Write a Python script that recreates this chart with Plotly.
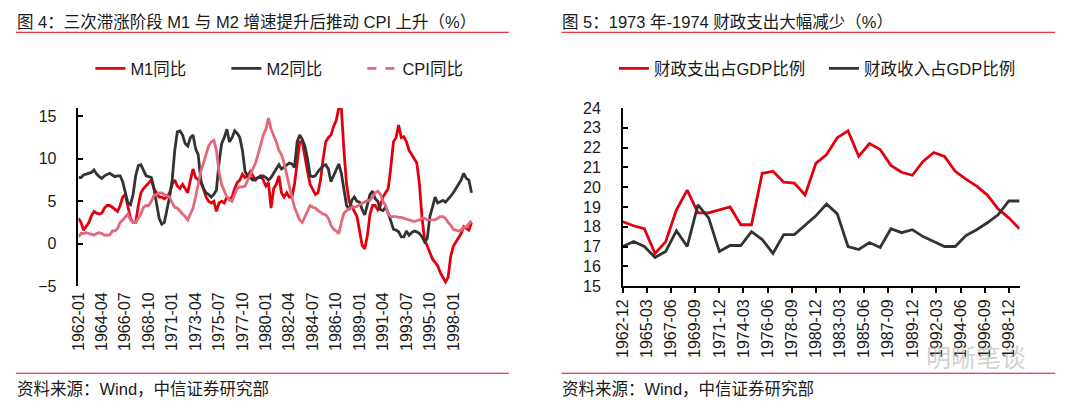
import pandas as pd
import plotly.graph_objects as go

# ---------------- Left chart: quarterly YoY (%) from 1962-01 ----------------
m1_yoy = [
    3.0, 2.5, 1.6, 2.0,   2.5, 3.3, 3.8, 3.6,   3.5, 3.6, 4.2, 4.5,   4.5, 4.3, 4.0, 3.8,
    4.5, 5.5, 5.8, 4.5,   3.0, 2.5, 2.5, 4.5,   6.0, 6.5, 6.8, 7.2,   7.5, 6.5, 6.0, 5.5,
    5.5, 5.3, 5.5, 6.0,   7.0, 7.5, 6.8, 6.5,   7.0, 6.5, 6.0, 7.5,   8.8, 7.8, 7.5, 7.2,
    6.5, 5.5, 5.0, 4.8,   5.0, 3.8, 4.8, 5.0,   4.8, 5.5, 5.2, 5.5,   6.5, 7.2, 7.5, 8.2,
    7.8, 8.0, 8.5, 8.0,   7.5, 7.8, 8.0, 7.5,   6.8, 7.2, 4.2, 6.5,   7.0, 8.0, 6.0, 5.5,
    6.0, 5.5, 5.5, 7.0,   9.5, 12.0, 12.0, 10.0, 8.5, 7.0, 6.3, 5.8,  6.0, 7.5, 10.0, 12.0,
    12.5, 12.8, 13.8, 14.5, 16.0, 16.0, 11.0, 7.0, 5.0, 4.3, 3.8, 3.2, 1.5, -0.2, -0.6, 1.0,
    3.5, 4.5, 4.5, 4.0,   4.5, 5.5, 6.0, 6.5,   9.0, 12.0, 12.5, 14.0, 12.5, 12.6, 12.0, 11.0,
    10.5, 10.0, 9.5, 7.0, 3.0, 0.5, -0.3, -1.1, -1.8, -2.2, -2.6, -3.4, -4.0, -4.5, -4.0, -1.5,
    -0.3, 0.2, 0.8, 1.2,  2.0, 1.8, 1.6, 2.5,
]
m2_yoy = [
    7.8, 7.8, 8.1, 8.2,   8.3, 8.4, 8.7, 8.2,   7.9, 7.7, 8.0, 8.2,   8.3, 8.1, 7.9, 8.0,
    8.0, 7.3, 6.0, 4.8,   4.6, 5.8, 8.0, 9.2,   9.3, 8.7, 8.0, 7.9,   7.8, 6.5, 4.5, 3.0,
    2.3, 2.5, 4.0, 5.5,   7.5, 11.0, 13.2, 13.3, 12.8, 11.8, 11.5, 12.5, 12.8, 11.2, 10.5, 7.5,
    6.5, 6.0, 5.8, 5.5,   5.8, 6.3, 9.5, 11.8,  12.5, 13.5, 12.0, 12.5, 13.3, 13.0, 12.5, 11.0,
    8.5, 8.0, 7.8, 7.5,   7.6, 7.8, 7.8, 8.0,   7.8, 7.5, 7.8, 8.3,   8.8, 9.3, 8.8, 9.0,
    9.2, 9.5, 9.4, 9.0,   12.0, 12.8, 12.3, 11.5, 10.0, 8.0, 7.9, 8.0, 8.5, 8.8, 9.2, 9.3,
    8.8, 7.3, 8.0, 8.8,   9.4, 8.3, 6.5, 4.5,   4.0, 5.1, 5.5, 5.0,   4.9, 4.0, 3.4, 4.5,
    5.8, 6.2, 5.3, 5.0,   4.0, 3.9, 4.3, 3.6,   2.5, 1.7, 1.6, 1.4,   0.8, 0.8, 1.5, 1.0,
    1.3, 1.5, 1.4, 1.2,   0.8, 0.2, 0.6, 3.2,   4.3, 5.5, 4.8, 5.0,   5.1, 4.9, 5.2, 5.6,
    6.0, 6.5, 7.0, 7.5,   8.3, 7.7, 7.5, 6.0,
]
cpi_yoy = [
    0.8, 1.2, 1.2, 1.3,   1.2, 1.1, 1.0, 1.2,   1.3, 1.2, 1.0, 1.0,   1.0, 1.5, 1.5, 1.8,
    2.5, 2.8, 3.2, 3.5,   2.8, 2.5, 2.5, 3.0,   3.5, 4.3, 4.5, 4.5,   5.0, 5.7, 5.8, 6.0,
    6.0, 5.8, 5.6, 5.5,   4.8, 4.3, 4.2, 3.8,   3.5, 3.2, 2.8, 3.5,   4.2, 5.5, 7.0, 8.5,
    9.5, 10.5, 11.5, 12.0, 12.2, 11.0, 8.5, 7.0, 6.3, 5.5, 5.2, 5.0,  5.8, 6.5, 6.7, 6.7,
    6.8, 7.5, 8.0, 8.8,   9.5, 10.5, 11.5, 12.8, 13.5, 14.8, 13.5, 12.8, 12.0, 11.0, 10.5, 9.5,
    8.0, 6.8, 5.5, 4.3,   3.5, 2.8, 2.5, 3.2,   4.0, 4.5, 4.3, 4.2,   3.9, 3.7, 3.5, 3.4,
    3.0, 2.2, 1.7, 1.5,   1.2, 2.5, 3.6, 3.9,   4.1, 4.3, 4.3, 4.4,   4.6, 4.8, 5.0, 5.1,
    5.1, 5.6, 6.0, 6.2,   5.8, 5.0, 4.5, 3.5,   3.2, 3.2, 3.2, 3.1,   3.1, 3.0, 2.9, 2.8,
    2.7, 2.6, 2.7, 2.8,   3.0, 3.0, 2.8, 2.8,   2.8, 2.8, 3.0, 3.2,   3.2, 3.0, 2.5, 2.2,
    1.7, 1.6, 1.5, 1.6,   1.9, 2.0, 2.3, 2.7,
]
left_tick_labels = ["1962-01", "1964-04", "1966-07", "1968-10", "1971-01", "1973-04",
                    "1975-07", "1977-10", "1980-01", "1982-04", "1984-07", "1986-10",
                    "1989-01", "1991-04", "1993-07", "1995-10", "1998-01"]

# ---------------- Right chart: annual (December) share of GDP (%) ----------------
spending_gdp = [18.25, 18.05, 17.9, 16.65, 17.25, 18.85, 19.85, 18.7, 18.7, 18.85,
                19.0, 18.1, 18.1, 20.7, 20.8, 20.25, 20.2, 19.6, 21.2, 21.65,
                22.5, 22.85, 21.55, 22.2, 21.9, 21.1, 20.75, 20.6, 21.3, 21.75,
                21.55, 20.8, 20.4, 20.05, 19.6, 18.9, 18.45, 17.9]
revenue_gdp = [17.0, 17.25, 17.0, 16.45, 16.75, 17.8, 17.0, 19.1, 18.45, 16.75,
               17.05, 17.05, 17.75, 17.35, 16.65, 17.6, 17.6, 18.1, 18.55, 19.15,
               18.65, 17.0, 16.85, 17.2, 16.95, 17.9, 17.7, 17.85, 17.5, 17.25,
               17.0, 17.0, 17.55, 17.85, 18.2, 18.6, 19.3, 19.3]
right_tick_labels = ["1962-12", "1965-03", "1967-06", "1969-09", "1971-12", "1974-03",
                     "1976-06", "1978-09", "1980-12", "1983-03", "1985-06", "1987-09",
                     "1989-12", "1992-03", "1994-06", "1996-09", "1998-12"]

left_dates = pd.date_range("1962-01-01", periods=len(m1_yoy), freq="3MS")
right_dates = pd.date_range("1962-12-01", periods=len(spending_gdp), freq="12MS")

FONT = "Arial, 'Liberation Sans', 'Noto Sans CJK SC', sans-serif"
RED = "#E2000F"
DARK = "#333333"
PINK = "#E3687B"
TXT = "#1a1a1a"
SCREEN_W, SCREEN_H = 1080, 411
OFF = 8                      # page body margin of the browser
FIG_W, FIG_H = SCREEN_W - OFF, SCREEN_H - OFF


def px_x(v):
    return (v - OFF) / FIG_W


def px_y(v):
    return (SCREEN_H - v) / FIG_H


y_dom = [px_y(290), px_y(104)]
left_dom = [px_x(70), px_x(469)]
right_dom = [px_x(619), px_x(1019)]
left_yrange = [-5, 16]
zero_pos = y_dom[0] + (0 - left_yrange[0]) / (left_yrange[1] - left_yrange[0]) * (y_dom[1] - y_dom[0])
LW = 2.8

fig = go.Figure()
fig.add_trace(go.Scatter(x=left_dates, y=m1_yoy, name="M1同比", mode="lines",
                         line=dict(color=RED, width=LW), xaxis="x", yaxis="y", legend="legend"))
fig.add_trace(go.Scatter(x=left_dates, y=m2_yoy, name="M2同比", mode="lines",
                         line=dict(color=DARK, width=LW), xaxis="x", yaxis="y", legend="legend"))
fig.add_trace(go.Scatter(x=left_dates, y=cpi_yoy, name="CPI同比", mode="lines", showlegend=False,
                         line=dict(color=PINK, width=LW), xaxis="x", yaxis="y"))
fig.add_trace(go.Scatter(x=[None], y=[None], name="CPI同比", mode="lines",
                         line=dict(color=PINK, width=LW, dash="dash"), xaxis="x", yaxis="y",
                         legend="legend"))
fig.add_trace(go.Scatter(x=right_dates, y=spending_gdp, name="财政支出占GDP比例", mode="lines",
                         line=dict(color=RED, width=LW), xaxis="x2", yaxis="y2", legend="legend2"))
fig.add_trace(go.Scatter(x=right_dates, y=revenue_gdp, name="财政收入占GDP比例", mode="lines",
                         line=dict(color=DARK, width=LW), xaxis="x2", yaxis="y2", legend="legend2"))

left_tickvals = [pd.Timestamp(t + "-01") for t in left_tick_labels]
right_tickvals = [pd.Timestamp(t + "-01") for t in right_tick_labels]
left_xrange = ["1962-01-01", "2000-01-01"]

tickfont = dict(family=FONT, size=16, color=TXT)
legfont = dict(family=FONT, size=16.5, color=TXT)
fig.update_layout(
    width=FIG_W, height=FIG_H, autosize=False,
    margin=dict(l=0, r=0, t=0, b=0),
    paper_bgcolor="white", plot_bgcolor="white",
    font=dict(family=FONT, color=TXT),
    xaxis=dict(domain=left_dom, anchor="y", type="date", range=left_xrange,
               tickmode="array", tickvals=left_tickvals, ticktext=left_tick_labels,
               tickangle=-90, ticks="", showline=False, showgrid=False, zeroline=False,
               tickfont=tickfont, ticklabelstandoff=2),
    xaxis3=dict(overlaying="x", anchor="free", position=zero_pos, type="date", range=left_xrange,
                tickmode="array", tickvals=left_tickvals, showticklabels=False,
                ticks="outside", ticklen=5, tickwidth=1.5, tickcolor="black",
                showline=True, linecolor="black", linewidth=1.5, showgrid=False, zeroline=False),
    yaxis=dict(domain=y_dom, anchor="x", range=left_yrange, tickmode="array",
               tickvals=[-5, 0, 5, 10, 15], ticks="inside", ticklen=5, tickwidth=1.5,
               tickcolor="black", showline=True, linecolor="black", linewidth=1.5,
               showgrid=False, zeroline=False, tickfont=tickfont, ticklabelstandoff=17),
    xaxis2=dict(domain=right_dom, anchor="y2", type="date",
                range=["1962-12-01", "1999-12-01"], tickmode="array",
                tickvals=right_tickvals, ticktext=right_tick_labels, tickangle=-90,
                ticks="outside", ticklen=5, tickwidth=1.5, tickcolor="black",
                showline=True, linecolor="black", linewidth=1.5, showgrid=False,
                zeroline=False, tickfont=tickfont),
    yaxis2=dict(domain=y_dom, anchor="x2", range=[15, 24], dtick=1, tick0=15,
                ticks="inside", ticklen=5, tickwidth=1.5, tickcolor="black",
                showline=True, linecolor="black", linewidth=1.5, showgrid=False,
                zeroline=False, tickfont=tickfont, ticklabelstandoff=17),
    legend=dict(orientation="h", x=px_x(82), y=px_y(63), xanchor="left", yanchor="middle",
                font=legfont, bgcolor="rgba(0,0,0,0)", traceorder="normal",
                entrywidth=91, entrywidthmode="pixels"),
    legend2=dict(orientation="h", x=px_x(610), y=px_y(63), xanchor="left", yanchor="middle",
                 font=legfont, bgcolor="rgba(0,0,0,0)", traceorder="normal",
                 entrywidth=165, entrywidthmode="pixels"),
)

annotations = [
    dict(text="图 4：三次滞涨阶段 M1 与 M2 增速提升后推动 CPI 上升（%）", x=px_x(6), y=px_y(14)),
    dict(text="图 5：1973 年-1974 财政支出大幅减少（%）", x=px_x(556), y=px_y(14)),
    dict(text="资料来源：Wind，中信证券研究部", x=px_x(6), y=px_y(397)),
    dict(text="资料来源：Wind，中信证券研究部", x=px_x(556), y=px_y(397)),
]
for a in annotations:
    fig.add_annotation(xref="paper", yref="paper", xanchor="left", yanchor="middle",
                       showarrow=False, font=dict(family=FONT, size=16.5, color=TXT), **a)
fig.add_annotation(xref="paper", yref="paper", x=px_x(1028), y=px_y(363), xanchor="right",
                   yanchor="middle", showarrow=False, text="明晰笔谈",
                   font=dict(family="'Noto Sans CJK SC'", size=25, color="rgba(170,170,170,0.55)"))

for x0, x1 in [(7, 504), (557, 1055)]:
    for yy in (25, 381):
        fig.add_shape(type="line", xref="paper", yref="paper", x0=px_x(x0), x1=px_x(x1),
                      y0=px_y(yy), y1=px_y(yy), line=dict(color=RED, width=1))

fig.write_html("out.html")
